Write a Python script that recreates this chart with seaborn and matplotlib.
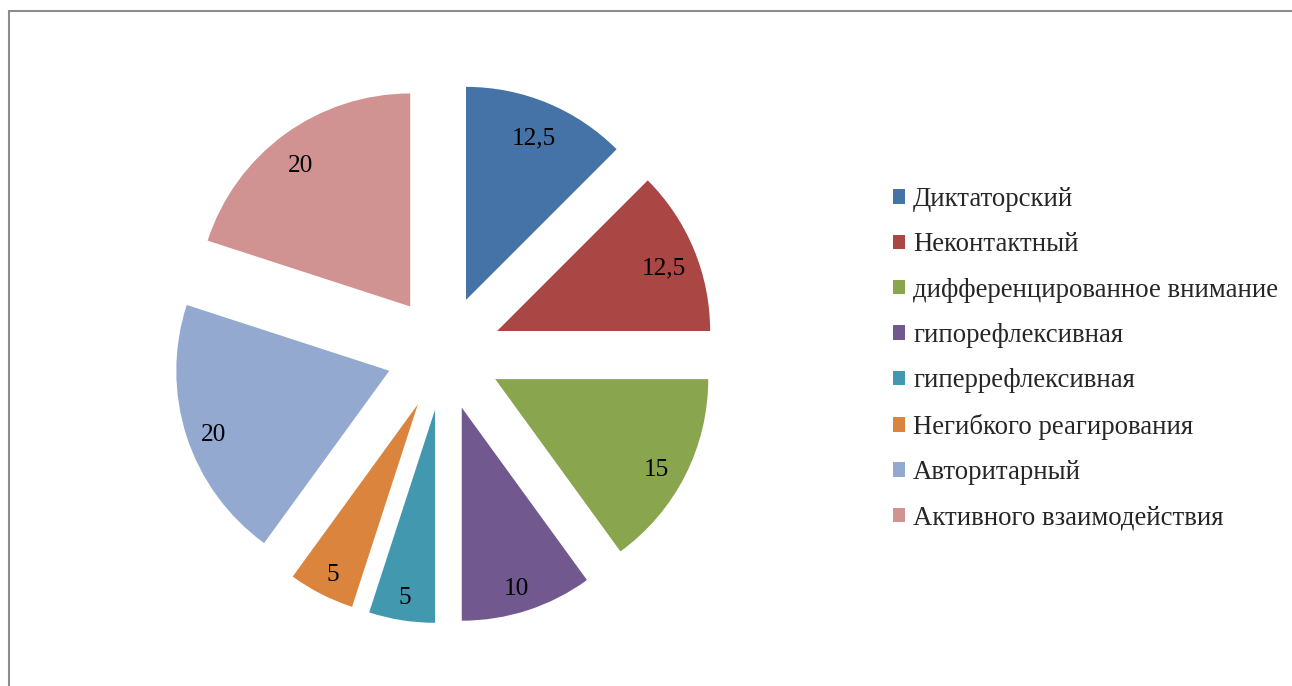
import matplotlib
matplotlib.use("Agg")
import matplotlib.pyplot as plt
import matplotlib.transforms as mtransforms
import seaborn as sns
from matplotlib.patches import Rectangle

# Data
categories = ["Диктаторский", "Неконтактный", "дифференцированное внимание",
              "гипорефлексивная", "гиперрефлексивная", "Негибкого реагирования",
              "Авторитарный", "Активного взаимодействия"]
values = [12.5, 12.5, 15, 10, 5, 5, 20, 20]
colors = ["#4572A7", "#AA4643", "#89A54E", "#71588F",
          "#4198AF", "#DB843D", "#93A9CF", "#D19392"]

sns.set_theme(style="white")
plt.rcParams["font.family"] = ["Liberation Serif", "DejaVu Serif"]

W, H = 1292, 686
fig = plt.figure(figsize=(W / 100, H / 100), dpi=100)
ax = fig.add_axes([0, 0, 1, 1])

# pie centre / radius in pixels
cx, cy, r = 444, 353, 213


def fmt(p):
    return f"{round(p, 1):g}".replace(".", ",")


palette = sns.color_palette(colors)
wedges, texts, autotexts = ax.pie(
    values, colors=palette, startangle=90, counterclock=False,
    explode=[0.27] * len(values), autopct=fmt, pctdistance=0.86,
    wedgeprops=dict(linewidth=0),
    textprops=dict(fontsize=18.3, color="black"))

# nudge value labels a few pixels down, like the original
shift = mtransforms.ScaledTranslation(-0.02, -0.05, fig.dpi_scale_trans)
for t in autotexts:
    t.set_va("center_baseline")
    t.set_transform(ax.transData + shift)

ax.set_xlim(-cx / r, (W - cx) / r)
ax.set_ylim((cy - H) / r, cy / r)
ax.set_aspect("auto")
ax.axis("off")

leg = fig.legend(wedges, categories, loc="upper left",
                 bbox_to_anchor=(893 / W, 1 - 187 / H), frameon=False,
                 fontsize=19.3, handlelength=0.45, handleheight=0.45,
                 handletextpad=0.3, labelspacing=0.76, borderpad=0,
                 borderaxespad=0)

# outer chart border (top and left edges visible)
fig.add_artist(Rectangle((8.5 / W, -0.1), 1.2, 1.1 - 11.5 / H,
                         transform=fig.transFigure, fill=False,
                         edgecolor="#8c8c8c", linewidth=1.5))

fig.savefig("out.png", dpi=100)
